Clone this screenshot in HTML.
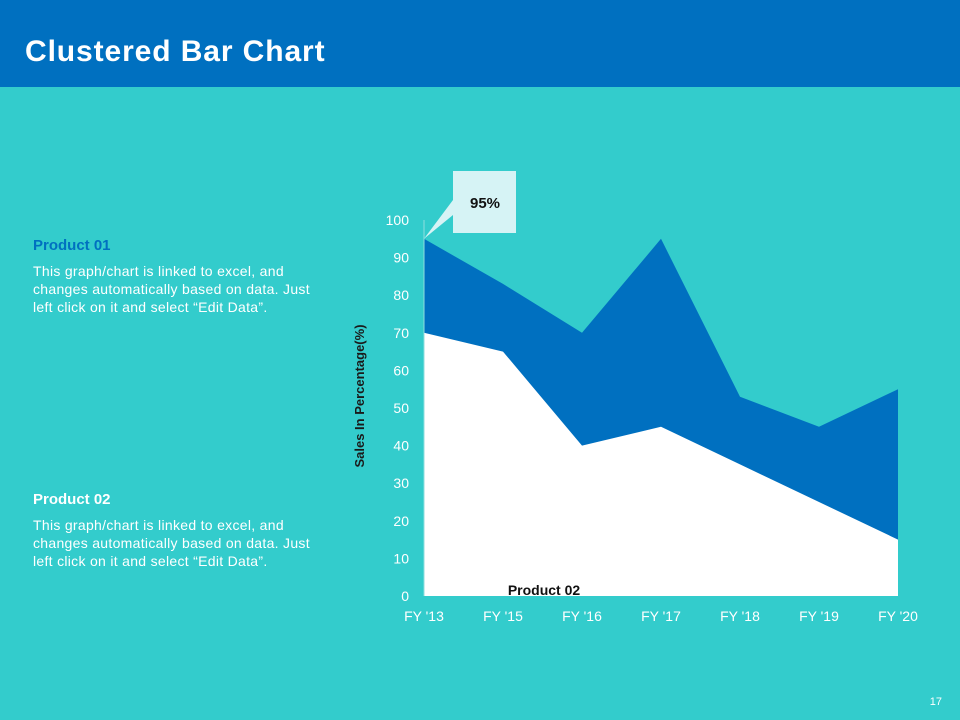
<!DOCTYPE html>
<html><head><meta charset="utf-8"><style>
body{margin:0;width:960px;height:720px;background:#33CCCC;font-family:"Liberation Sans",sans-serif;position:relative;overflow:hidden}
.hdr{position:absolute;left:0;top:0;width:960px;height:87px;background:#0070C0}
.hdr h1{position:absolute;left:25px;top:34px;margin:0;color:#fff;font-size:30px;font-weight:bold;line-height:36px;letter-spacing:0.9px}
.pt{position:absolute;left:33px;font-size:15px;font-weight:bold;font-family:"Liberation Sans",sans-serif}
.ds{position:absolute;left:33px;width:285px;color:#fff;font-size:14px;line-height:18px;letter-spacing:0.3px}
.pn{position:absolute;right:18px;bottom:12px;color:#fff;font-size:11px}
</style></head><body>
<div class="hdr"><h1>Clustered Bar Chart</h1></div>
<div class="pt" style="top:237px;color:#0070C0">Product 01</div>
<div class="ds" style="top:262px">This graph/chart is linked to excel, and changes automatically based on data. Just left click on it and select “Edit Data”.</div>
<div class="pt" style="top:491px;color:#fff">Product 02</div>
<div class="ds" style="top:516px">This graph/chart is linked to excel, and changes automatically based on data. Just left click on it and select “Edit Data”.</div>
<svg id="chart" width="960" height="720" style="position:absolute;left:0;top:0"></svg>
<div class="pn">17</div>
<script>
const categories=["FY '13","FY '15","FY '16","FY '17","FY '18","FY '19","FY '20"];
const product01=[95,83,70,95,53,45,55];
const product02=[70,65,40,45,35,25,15];
const yTicks=[0,10,20,30,40,50,60,70,80,90,100];
const calloutText="95%";
const NS="http://www.w3.org/2000/svg";
const svg=document.getElementById('chart');
const x0=424,x1=898,yb=596,yt=220;
const X=i=>x0+i*(x1-x0)/(categories.length-1);
const Y=v=>yb-(v/100)*(yb-yt);
function mk(t,a){const e=document.createElementNS(NS,t);for(const k in a)e.setAttribute(k,a[k]);svg.appendChild(e);return e;}
function area(vals,fill,name){
 let d=`M${X(0)},${yb}`;vals.forEach((v,i)=>d+=` L${X(i)},${Y(v)}`);d+=` L${X(vals.length-1)},${yb}Z`;
 const p=mk('path',{d:d,fill:fill});
 
 
}
area(product01,'#0070C0','product-01-area');
area(product02,'#FFFFFF','product-02-area');
const ax=mk('line',{x1:x0,y1:yt,x2:x0,y2:yb,stroke:'#8fdede','stroke-width':1});


yTicks.forEach(v=>{const t=mk('text',{x:409,y:Y(v)+5,'text-anchor':'end',fill:'#fff','font-size':14,'font-family':'Liberation Sans'});t.textContent=v;
 
 });
categories.forEach((c,i)=>{const t=mk('text',{x:X(i),y:621,'text-anchor':'middle',fill:'#fff','font-size':14,'font-family':'Liberation Sans'});t.textContent=c;
 
 });
const yt2=mk('text',{x:0,y:0,transform:'translate(364,396) rotate(-90)','text-anchor':'middle',fill:'#1a1a1a','font-size':13,'font-weight':'bold','font-family':'Liberation Sans'});yt2.textContent='Sales In Percentage(%)';


const lb=mk('text',{x:544,y:595,'text-anchor':'middle',fill:'#111','font-size':14,'font-weight':'bold','font-family':'Liberation Sans'});lb.textContent='Product 02';


const px=X(0),py=Y(product01[0]);
const co=mk('path',{d:`M453,171 L516,171 L516,233 L453,233 L453,215 L${px},${py} L453,200 Z`,fill:'#D6F3F5'});


const ct=mk('text',{x:485,y:208,'text-anchor':'middle',fill:'#111','font-size':15,'font-weight':'bold','font-family':'Liberation Sans'});ct.textContent=calloutText;


</script>
</body></html>
